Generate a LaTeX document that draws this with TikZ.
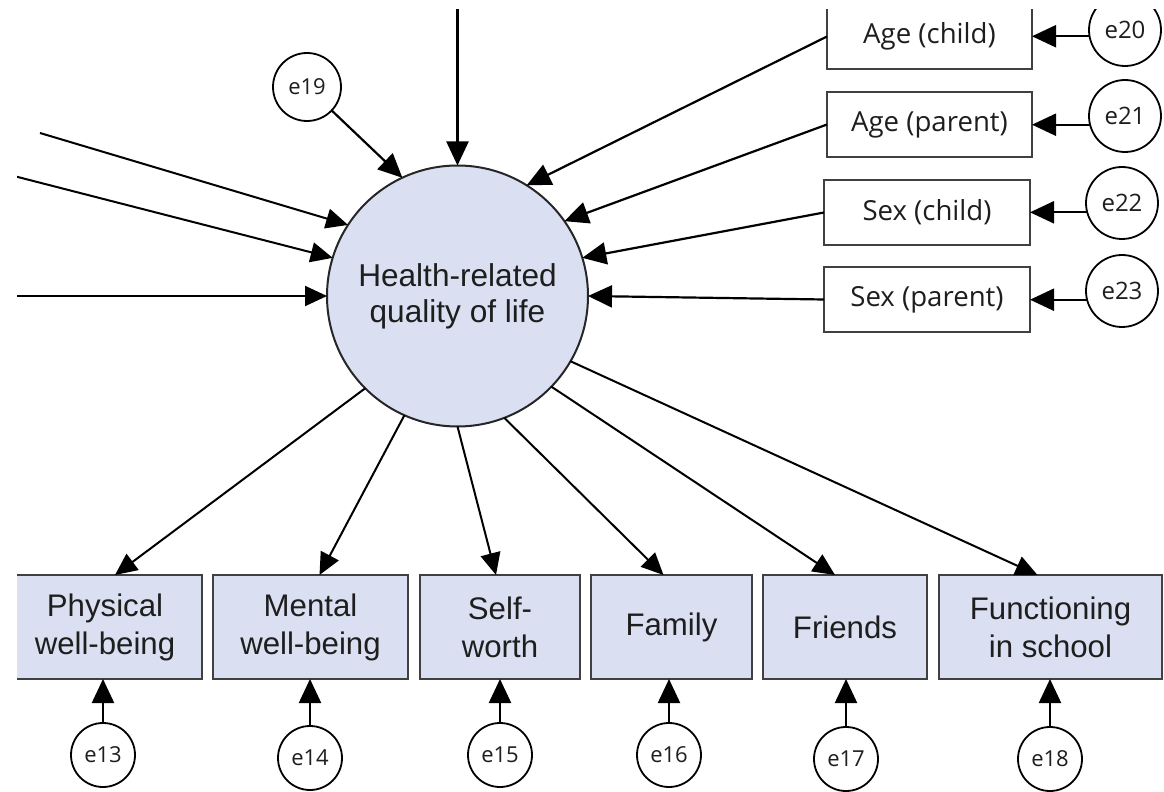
\documentclass[tikz,border=0pt]{standalone}
\usepackage{fontspec}
\setmainfont{Liberation Sans}
\newfontfamily\uifont{Open Sans}
\usetikzlibrary{arrows.meta}
\definecolor{boxfill}{RGB}{218,224,242}
\definecolor{txt}{RGB}{30,30,30}
\begin{document}
\begin{tikzpicture}[x=0.5pt,y=-0.5pt,
  conn/.style={line width=1pt, -{Triangle[length=11pt,width=10pt]}},
  bigconn/.style={line width=1.1pt, -{Triangle[length=12pt,width=11pt]}},
  latent/.style={circle, draw=black!85, line width=1pt, fill=boxfill, inner sep=0pt, outer sep=0pt, minimum size=130.5pt, align=center, text=txt, font=\fontsize{15.8}{18}\selectfont},
  obs/.style={rectangle, draw=black!75, line width=1.2pt, fill=boxfill, inner sep=0pt, outer sep=0pt, minimum height=52pt, align=center, text=txt, font=\fontsize{15.6}{19}\selectfont},
  pred/.style={rectangle, draw=black!75, line width=1.2pt, fill=white, inner sep=0pt, outer sep=0pt, minimum height=32.5pt, text=txt, font=\uifont\fontsize{13.8}{16}\selectfont},
  err/.style={circle, draw=black, line width=0.9pt, fill=white, inner sep=0pt, outer sep=0pt, minimum size=32pt, text=txt, font=\uifont\fontsize{11}{13}\selectfont},
  errR/.style={err, minimum size=36pt, font=\uifont\fontsize{12}{14}\selectfont},
]
\useasboundingbox (0,0) rectangle (1164,792);
\clip (17,10) rectangle (1164,792);

% latent
\node[latent] (hq) at (457.5,296) {Health-related\\quality of life};

% predictors (right)
\node[pred, minimum width=102.5pt] (agec) at (929.5,36.5) {Age (child)};
\node[pred, minimum width=102.5pt] (agep) at (929.5,124.5) {Age (parent)};
\node[pred, minimum width=103pt] (sexc) at (927,212.5) {Sex (child)};
\node[pred, minimum width=103pt] (sexp) at (927,299.5) {Sex (parent)};

\node[errR] (e20) at (1125,30) {e20};
\node[errR] (e21) at (1125,116) {e21};
\node[errR] (e22) at (1122,203) {e22};
\node[errR] (e23) at (1122,291) {e23};

\node[err, minimum size=34pt] (e19) at (307,87) {e19};

% indicators (bottom)
\node[obs, minimum width=97pt] (phys) at (105,627) {Physical\\well-being};
\node[obs, minimum width=97.5pt] (ment) at (310.5,627) {Mental\\well-being};
\node[obs, minimum width=80pt] (self) at (500,627) {Self-\\worth};
\node[obs, minimum width=80.5pt] (fam) at (671.5,627) {Family};
\node[obs, minimum width=82pt] (fri) at (845,627) {Friends};
\node[obs, minimum width=111.5pt] (func) at (1050.5,627) {Functioning\\in school};

\node[err] (e13) at (103,755) {e13};
\node[err] (e14) at (310,758) {e14};
\node[err] (e15) at (500,755) {e15};
\node[err] (e16) at (669,755) {e16};
\node[err] (e17) at (846,759) {e17};
\node[err] (e18) at (1050,759) {e18};

% free ends
\coordinate (top) at (457.5,0);
\coordinate (l1) at (40,133);
\coordinate (l2) at (10,175);
\coordinate (l3) at (0,296);

% incoming to latent
\draw[bigconn] (top) -- (hq.90);
\draw[conn] (l1) -- (hq.147);
\draw[conn] (l2) -- (hq.163);
\draw[conn] (l3) -- (hq.180);
\draw[bigconn] (e19) -- (hq.115);
\draw[bigconn] (agec.west) -- (hq.58);
\draw[bigconn] (agep.west) -- (hq.35);
\draw[bigconn] (sexc.west) -- (hq.17);
\draw[bigconn] (sexp.west) -- (hq.0);

% errors to predictors
\draw[bigconn] (e20.190) -- (e20.190 -| agec.east);
\draw[bigconn] (e21.194) -- (e21.194 -| agep.east);
\draw[bigconn] (e22.195) -- (e22.195 -| sexc.east);
\draw[bigconn] (e23.194) -- (e23.194 -| sexp.east);

% latent to indicators
\draw[conn] (hq.225) -- ([xshift=5pt]phys.north);
\draw[conn] (hq.246) -- ([xshift=4.5pt]ment.north);
\draw[conn] (hq.270) -- ([xshift=-2pt]self.north);
\draw[conn] (hq.291) -- ([xshift=-4pt]fam.north);
\draw[conn] (hq.316) -- ([xshift=-5pt]fri.north);
\draw[conn] (hq.330) -- ([xshift=-6.5pt]func.north);

% errors to indicators
\draw[bigconn] (e13) -- (e13 |- phys.south);
\draw[bigconn] (e14) -- (e14 |- ment.south);
\draw[bigconn] (e15) -- (e15 |- self.south);
\draw[bigconn] (e16) -- (e16 |- fam.south);
\draw[bigconn] (e17) -- (e17 |- fri.south);
\draw[bigconn] (e18) -- (e18 |- func.south);
\end{tikzpicture}
\end{document}
